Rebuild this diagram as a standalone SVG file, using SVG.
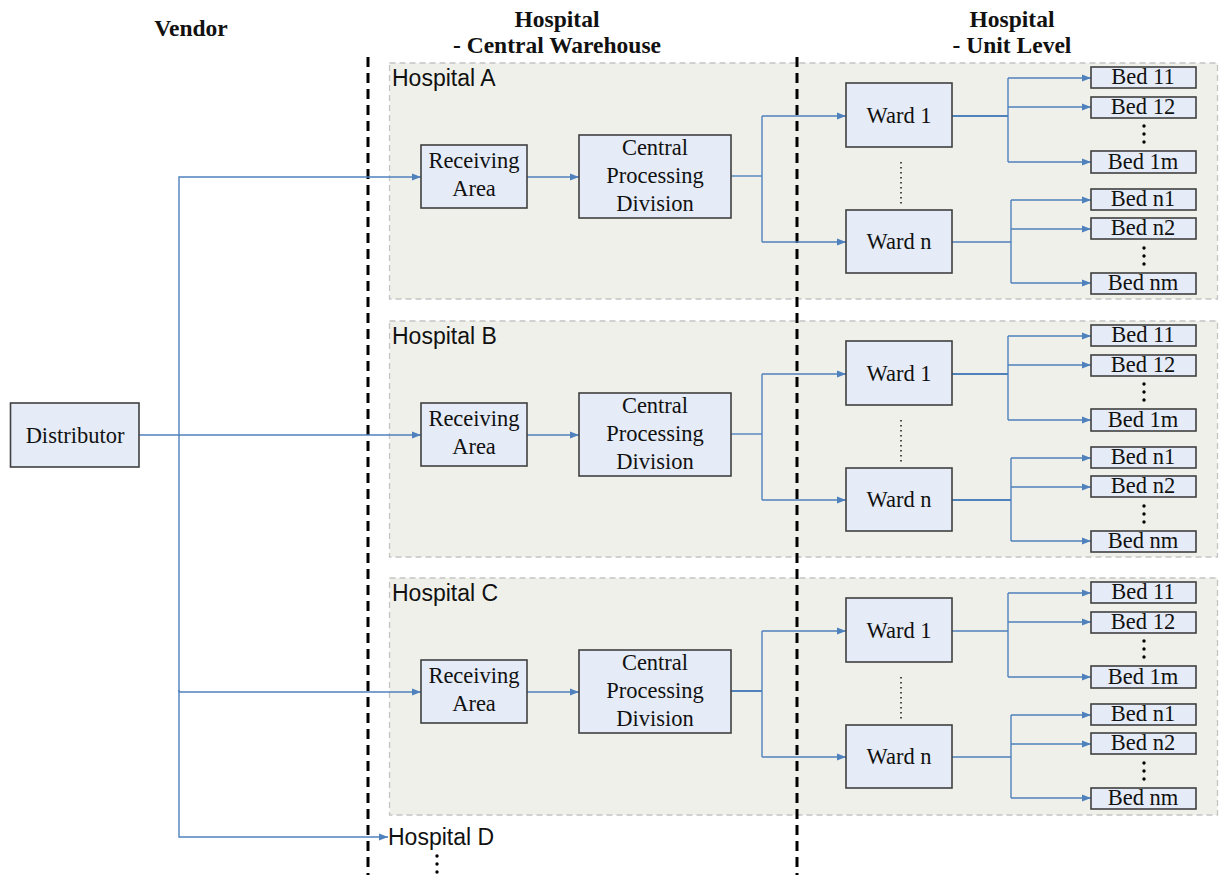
<svg xmlns="http://www.w3.org/2000/svg" width="1220" height="875" viewBox="0 0 1220 875">
<defs>
<style>
.node{fill:#e6ecf7;stroke:#404040;stroke-width:1.6}
.panel{fill:#f0f0ea;stroke:#c4c4c4;stroke-width:1.3;stroke-dasharray:6 4}
.t{font-family:"Liberation Serif","Times New Roman",serif;font-size:22.5px;fill:#111;text-anchor:middle}
.h{font-family:"Liberation Serif","Times New Roman",serif;font-size:23.5px;font-weight:bold;fill:#111;text-anchor:middle}
.p{font-family:"Liberation Sans",Arial,sans-serif;font-size:23px;fill:#111}
.c{fill:none;stroke:#4f81bd;stroke-width:1.4}
.div{stroke:#000;stroke-width:3;stroke-dasharray:10 6}
.dots{stroke:#222;stroke-width:1.6;stroke-dasharray:1.6 3.4}
</style>
<marker id="ah" markerUnits="userSpaceOnUse" markerWidth="9" markerHeight="8" refX="9" refY="4" orient="auto">
<path d="M0,0.5 L9,4 L0,7.5 z" fill="#4f81bd"/>
</marker>
</defs>

<!-- titles -->
<text class="h" x="191" y="36">Vendor</text>
<text class="h" x="557" y="27">Hospital</text>
<text class="h" x="557" y="53">- Central Warehouse</text>
<text class="h" x="1012" y="27">Hospital</text>
<text class="h" x="1012" y="53">- Unit Level</text>

<!-- panels -->
<g id="panel-A"><rect class="panel" x="389.5" y="63" width="828" height="236"/><text class="p" x="392" y="86">Hospital A</text></g>
<g id="panel-B"><rect class="panel" x="389.5" y="321" width="828" height="236"/><text class="p" x="392" y="344">Hospital B</text></g>
<g id="panel-C"><rect class="panel" x="389.5" y="578" width="828" height="237"/><text class="p" x="392" y="601">Hospital C</text></g>

<!-- divider lines -->
<line class="div" x1="368" y1="57" x2="368" y2="875"/>
<line class="div" x1="797" y1="57" x2="797" y2="875"/>

<!-- connectors -->
<g id="connectors">
<polyline class="c" points="139,435 421,435" marker-end="url(#ah)"/>
<polyline class="c" points="179,692 179,177 421,177" marker-end="url(#ah)"/>
<polyline class="c" points="179,692 421,692" marker-end="url(#ah)"/>
<polyline class="c" points="179,690 179,837 388,837" marker-end="url(#ah)"/>
<g id="conn-A">
<line class="c" x1="527" y1="177" x2="579" y2="177" marker-end="url(#ah)"/>
<polyline class="c" points="731,176 762,176"/>
<polyline class="c" points="762,116 762,242"/>
<line class="c" x1="762" y1="116" x2="846" y2="116" marker-end="url(#ah)"/>
<line class="c" x1="762" y1="242" x2="846" y2="242" marker-end="url(#ah)"/>
<line class="c" x1="952" y1="116" x2="1008" y2="116" style="stroke-width:2"/>
<line class="c" x1="1008" y1="78" x2="1008" y2="162"/>
<line class="c" x1="1008" y1="78" x2="1091" y2="78" marker-end="url(#ah)"/>
<line class="c" x1="1008" y1="107" x2="1091" y2="107" marker-end="url(#ah)"/>
<line class="c" x1="1008" y1="162" x2="1091" y2="162" marker-end="url(#ah)"/>
<line class="c" x1="952" y1="242" x2="1011" y2="242"/>
<line class="c" x1="1011" y1="200" x2="1011" y2="283"/>
<line class="c" x1="1011" y1="200" x2="1091" y2="200" marker-end="url(#ah)"/>
<line class="c" x1="1011" y1="229" x2="1091" y2="229" marker-end="url(#ah)"/>
<line class="c" x1="1011" y1="283" x2="1091" y2="283" marker-end="url(#ah)"/>
</g>
<g id="conn-B" transform="translate(0,258)">
<line class="c" x1="527" y1="177" x2="579" y2="177" marker-end="url(#ah)"/>
<polyline class="c" points="731,176 762,176"/>
<polyline class="c" points="762,116 762,242"/>
<line class="c" x1="762" y1="116" x2="846" y2="116" marker-end="url(#ah)"/>
<line class="c" x1="762" y1="242" x2="846" y2="242" marker-end="url(#ah)"/>
<line class="c" x1="952" y1="116" x2="1008" y2="116" style="stroke-width:2"/>
<line class="c" x1="1008" y1="78" x2="1008" y2="162"/>
<line class="c" x1="1008" y1="78" x2="1091" y2="78" marker-end="url(#ah)"/>
<line class="c" x1="1008" y1="107" x2="1091" y2="107" marker-end="url(#ah)"/>
<line class="c" x1="1008" y1="162" x2="1091" y2="162" marker-end="url(#ah)"/>
<line class="c" x1="952" y1="242" x2="1011" y2="242" style="stroke-width:2"/>
<line class="c" x1="1011" y1="200" x2="1011" y2="283"/>
<line class="c" x1="1011" y1="200" x2="1091" y2="200" marker-end="url(#ah)"/>
<line class="c" x1="1011" y1="229" x2="1091" y2="229" marker-end="url(#ah)"/>
<line class="c" x1="1011" y1="283" x2="1091" y2="283" marker-end="url(#ah)"/>
</g>
<g id="conn-C" transform="translate(0,515)">
<line class="c" x1="527" y1="177" x2="579" y2="177" marker-end="url(#ah)"/>
<polyline class="c" points="731,176 762,176" style="stroke-width:2"/>
<polyline class="c" points="762,116 762,242"/>
<line class="c" x1="762" y1="116" x2="846" y2="116" marker-end="url(#ah)"/>
<line class="c" x1="762" y1="242" x2="846" y2="242" marker-end="url(#ah)"/>
<line class="c" x1="952" y1="116" x2="1008" y2="116"/>
<line class="c" x1="1008" y1="78" x2="1008" y2="162"/>
<line class="c" x1="1008" y1="78" x2="1091" y2="78" marker-end="url(#ah)"/>
<line class="c" x1="1008" y1="107" x2="1091" y2="107" marker-end="url(#ah)"/>
<line class="c" x1="1008" y1="162" x2="1091" y2="162" marker-end="url(#ah)"/>
<line class="c" x1="952" y1="242" x2="1011" y2="242"/>
<line class="c" x1="1011" y1="200" x2="1011" y2="283"/>
<line class="c" x1="1011" y1="200" x2="1091" y2="200" marker-end="url(#ah)"/>
<line class="c" x1="1011" y1="229" x2="1091" y2="229" marker-end="url(#ah)"/>
<line class="c" x1="1011" y1="283" x2="1091" y2="283" marker-end="url(#ah)"/>
</g>
</g>

<!-- Distributor -->
<g id="distributor"><rect class="node" x="10.5" y="403" width="128.5" height="64"/><text class="t" x="75" y="443">Distributor</text></g>

<!-- Hospital A nodes -->
<g id="A-nodes">
<g id="A-receiving"><rect class="node" x="421" y="145" width="106" height="63"/><text class="t" x="474" y="168">Receiving</text><text class="t" x="474" y="196">Area</text></g>
<g id="A-cpd"><rect class="node" x="579" y="135" width="152" height="83"/><text class="t" x="655" y="155">Central</text><text class="t" x="655" y="183">Processing</text><text class="t" x="655" y="211">Division</text></g>
<g id="A-ward1"><rect class="node" x="846" y="83" width="106" height="64"/><text class="t" x="899" y="123">Ward 1</text></g>
<g id="A-wardn"><rect class="node" x="846" y="210" width="106" height="63"/><text class="t" x="899" y="249">Ward n</text></g>
<g id="A-bed11"><rect class="node" x="1091" y="67" width="105" height="21"/><text class="t" x="1143" y="84">Bed 11</text></g>
<g id="A-bed12"><rect class="node" x="1091" y="97" width="105" height="21"/><text class="t" x="1143" y="114">Bed 12</text></g>
<g id="A-bed1m"><rect class="node" x="1091" y="151" width="105" height="22"/><text class="t" x="1143" y="169">Bed 1m</text></g>
<g id="A-bedn1"><rect class="node" x="1091" y="189" width="105" height="21"/><text class="t" x="1143" y="206">Bed n1</text></g>
<g id="A-bedn2"><rect class="node" x="1091" y="218" width="105" height="21"/><text class="t" x="1143" y="235">Bed n2</text></g>
<g id="A-bednm"><rect class="node" x="1091" y="273" width="105" height="21"/><text class="t" x="1143" y="290">Bed nm</text></g>
<line class="dots" x1="901" y1="162" x2="901" y2="206"/>
<circle cx="1144" cy="126" r="1.7"/><circle cx="1144" cy="134" r="1.7"/><circle cx="1144" cy="142" r="1.7"/>
<circle cx="1144" cy="248" r="1.7"/><circle cx="1144" cy="256" r="1.7"/><circle cx="1144" cy="264" r="1.7"/>
</g>

<!-- Hospital B nodes -->
<g id="B-nodes" transform="translate(0,258)">
<g id="B-receiving"><rect class="node" x="421" y="145" width="106" height="63"/><text class="t" x="474" y="168">Receiving</text><text class="t" x="474" y="196">Area</text></g>
<g id="B-cpd"><rect class="node" x="579" y="135" width="152" height="83"/><text class="t" x="655" y="155">Central</text><text class="t" x="655" y="183">Processing</text><text class="t" x="655" y="211">Division</text></g>
<g id="B-ward1"><rect class="node" x="846" y="83" width="106" height="64"/><text class="t" x="899" y="123">Ward 1</text></g>
<g id="B-wardn"><rect class="node" x="846" y="210" width="106" height="63"/><text class="t" x="899" y="249">Ward n</text></g>
<g id="B-bed11"><rect class="node" x="1091" y="67" width="105" height="21"/><text class="t" x="1143" y="84">Bed 11</text></g>
<g id="B-bed12"><rect class="node" x="1091" y="97" width="105" height="21"/><text class="t" x="1143" y="114">Bed 12</text></g>
<g id="B-bed1m"><rect class="node" x="1091" y="151" width="105" height="22"/><text class="t" x="1143" y="169">Bed 1m</text></g>
<g id="B-bedn1"><rect class="node" x="1091" y="189" width="105" height="21"/><text class="t" x="1143" y="206">Bed n1</text></g>
<g id="B-bedn2"><rect class="node" x="1091" y="218" width="105" height="21"/><text class="t" x="1143" y="235">Bed n2</text></g>
<g id="B-bednm"><rect class="node" x="1091" y="273" width="105" height="21"/><text class="t" x="1143" y="290">Bed nm</text></g>
<line class="dots" x1="901" y1="162" x2="901" y2="206"/>
<circle cx="1144" cy="126" r="1.7"/><circle cx="1144" cy="134" r="1.7"/><circle cx="1144" cy="142" r="1.7"/>
<circle cx="1144" cy="248" r="1.7"/><circle cx="1144" cy="256" r="1.7"/><circle cx="1144" cy="264" r="1.7"/>
</g>

<!-- Hospital C nodes -->
<g id="C-nodes" transform="translate(0,515)">
<g id="C-receiving"><rect class="node" x="421" y="145" width="106" height="63"/><text class="t" x="474" y="168">Receiving</text><text class="t" x="474" y="196">Area</text></g>
<g id="C-cpd"><rect class="node" x="579" y="135" width="152" height="83"/><text class="t" x="655" y="155">Central</text><text class="t" x="655" y="183">Processing</text><text class="t" x="655" y="211">Division</text></g>
<g id="C-ward1"><rect class="node" x="846" y="83" width="106" height="64"/><text class="t" x="899" y="123">Ward 1</text></g>
<g id="C-wardn"><rect class="node" x="846" y="210" width="106" height="63"/><text class="t" x="899" y="249">Ward n</text></g>
<g id="C-bed11"><rect class="node" x="1091" y="67" width="105" height="21"/><text class="t" x="1143" y="84">Bed 11</text></g>
<g id="C-bed12"><rect class="node" x="1091" y="97" width="105" height="21"/><text class="t" x="1143" y="114">Bed 12</text></g>
<g id="C-bed1m"><rect class="node" x="1091" y="151" width="105" height="22"/><text class="t" x="1143" y="169">Bed 1m</text></g>
<g id="C-bedn1"><rect class="node" x="1091" y="189" width="105" height="21"/><text class="t" x="1143" y="206">Bed n1</text></g>
<g id="C-bedn2"><rect class="node" x="1091" y="218" width="105" height="21"/><text class="t" x="1143" y="235">Bed n2</text></g>
<g id="C-bednm"><rect class="node" x="1091" y="273" width="105" height="21"/><text class="t" x="1143" y="290">Bed nm</text></g>
<line class="dots" x1="901" y1="162" x2="901" y2="206"/>
<circle cx="1144" cy="126" r="1.7"/><circle cx="1144" cy="134" r="1.7"/><circle cx="1144" cy="142" r="1.7"/>
<circle cx="1144" cy="248" r="1.7"/><circle cx="1144" cy="256" r="1.7"/><circle cx="1144" cy="264" r="1.7"/>
</g>

<!-- Hospital D -->
<g id="hospital-D"><text class="p" x="388" y="845">Hospital D</text>
<circle cx="437" cy="856" r="1.7"/><circle cx="437" cy="864" r="1.7"/><circle cx="437" cy="872" r="1.7"/></g>
</svg>
